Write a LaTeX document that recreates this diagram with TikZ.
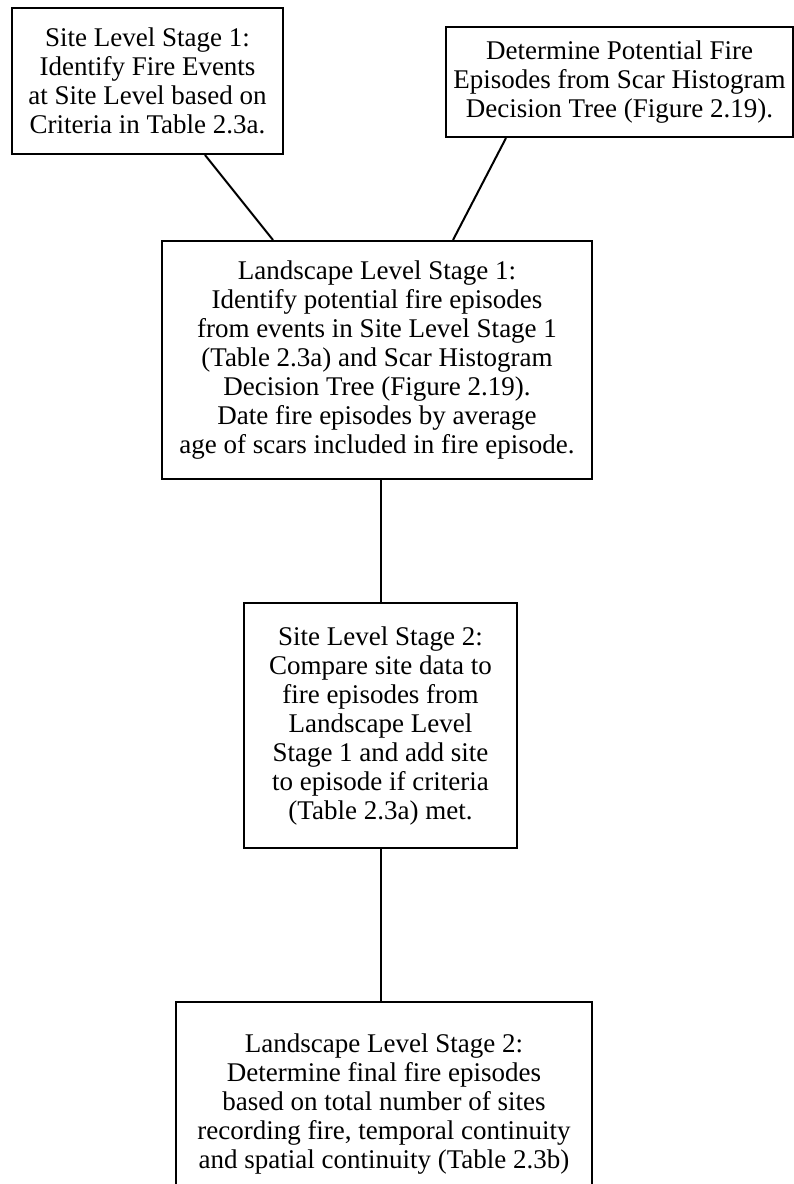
\documentclass[tikz,border=0pt]{standalone}
\usepackage{fontspec}
\setmainfont{Liberation Serif}
\begin{document}
\begin{tikzpicture}[x=1pt,y=-1pt,
  stepbox/.style={draw, line width=2pt, align=center, inner sep=0pt,
    font=\fontsize{27}{29}\selectfont},
  link/.style={line width=2pt}]
\clip (0,0) rectangle (794,1184);
\node[stepbox, minimum width=271pt, minimum height=146pt] (b1) at (147.5,81)
  {Site Level Stage 1:\\Identify Fire Events\\at Site Level based on\\Criteria in Table 2.3a.};
\node[stepbox, minimum width=347pt, minimum height=110pt] (b2) at (619.5,82)
  {Determine Potential Fire\\Episodes from Scar Histogram\\Decision Tree (Figure 2.19).};
\node[stepbox, minimum width=430pt, minimum height=238pt] (b3) at (377,360)
  {Landscape Level Stage 1:\\Identify potential fire episodes\\from events in Site Level Stage 1\\(Table 2.3a) and Scar Histogram\\Decision Tree (Figure 2.19).\\Date fire episodes by average\\age of scars included in fire episode.};
\node[stepbox, minimum width=273pt, minimum height=245pt] (b4) at (380.5,725.5)
  {Site Level Stage 2:\\Compare site data to\\fire episodes from\\Landscape Level\\Stage 1 and add site\\to episode if criteria\\(Table 2.3a) met.};
\node[stepbox, minimum width=416pt, minimum height=198pt, text depth=0pt] (b5) at (384,1101)
  {Landscape Level Stage 2:\\Determine final fire episodes\\based on total number of sites\\recording fire, temporal continuity\\and spatial continuity (Table 2.3b)};
\draw[link] ([xshift=57.5pt]b1.south) -- ([xshift=-104pt]b3.north);
\draw[link] ([xshift=-113.5pt]b2.south) -- ([xshift=76pt]b3.north);
\draw[link] (b4.north |- b3.south) -- (b4.north);
\draw[link] (b4.south) -- (b4.south |- b5.north);
\end{tikzpicture}
\end{document}
